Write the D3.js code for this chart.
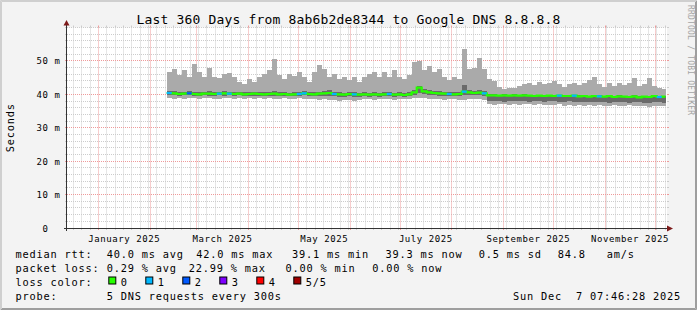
<!DOCTYPE html>
<html>
<head>
<meta charset="utf-8">
<script src="https://cdn.jsdelivr.net/npm/d3@7"></script>
<style>
  body { margin: 0; background: #f3f3f3; }
  svg text { font-family: "DejaVu Sans Mono", monospace; white-space: pre; }
</style>
</head>
<body>
<svg id="chart" width="697" height="310"></svg>
<script>
// one sample every 3 days, starting Feb 11 2025
const firstDay = new Date(2025, 1, 11);
const stepDays = 3;
const lastUpdate = new Date(2025, 11, 7, 7, 46, 28);

// smoke: 5 pings sorted, max / 2nd / median / 4th / min (ms)
const pingMax = [46.7,47.6,45.7,47.2,45.2,49.1,46.7,45.2,47.9,45.2,
  45.0,46.2,46.5,45.2,43.7,43.2,44.7,43.7,45.2,46.2,
  47.2,50.5,45.7,44.7,46.2,45.5,46.7,45.2,43.7,46.7,
  48.7,47.6,45.2,46.2,44.7,45.2,44.2,45.2,43.7,45.2,
  46.2,46.7,45.2,46.7,45.2,47.2,45.2,44.7,45.7,49.6,
  50.1,47.2,48.6,46.7,47.6,45.2,44.2,45.2,44.7,53.5,
  47.5,48.0,51.0,47.5,44.5,44.0,42.2,41.5,42.0,41.8,
  42.5,43.0,43.5,42.8,43.8,43.0,43.5,44.0,43.0,42.2,
  43.2,43.5,42.8,43.5,44.2,45.3,43.2,42.3,43.4,42.6,
  43.5,42.8,43.5,45.0,42.5,43.2,44.8,42.5,42.0,41.5];
const pingHigh = [41.0,41.1,40.7,40.8,40.9,40.7,40.6,40.8,40.9,40.7,
  40.8,40.9,40.8,40.6,40.7,40.6,40.7,40.8,40.6,40.6,
  40.7,40.9,40.6,40.7,40.5,40.6,40.8,41.0,40.7,40.6,
  40.8,40.9,41.2,40.7,40.6,40.5,40.7,40.6,40.5,40.6,
  40.5,40.6,40.5,40.6,40.7,40.5,40.6,40.4,40.7,41.4,
  42.6,41.6,41.3,41.0,40.9,40.8,40.7,40.6,40.8,42.8,
  41.3,41.0,41.2,40.9,40.0,40.0,39.9,40.0,39.9,40.0,
  39.9,40.0,39.9,39.8,39.9,39.8,39.9,39.8,39.9,39.8,
  39.8,39.9,39.7,39.8,39.6,39.8,39.7,39.6,39.8,39.5,
  39.7,39.6,39.5,39.7,39.4,39.6,39.5,39.8,39.5,39.6];
const pingMedian = [40.4,40.3,40.1,40.2,40.3,40.1,40.0,40.2,40.2,40.1,
  40.2,40.3,40.2,40.1,40.2,40.0,40.1,40.2,40.1,40.0,
  40.1,40.2,40.0,40.1,39.9,40.0,40.1,40.3,40.1,40.0,
  40.2,40.3,40.4,40.1,40.0,39.9,40.1,40.0,39.9,40.0,
  39.9,40.0,39.9,40.0,40.1,39.9,40.0,39.8,40.0,40.6,
  42.0,40.9,40.6,40.4,40.3,40.2,40.1,40.0,40.1,40.8,
  40.6,40.4,40.5,40.3,39.7,39.7,39.6,39.7,39.6,39.7,
  39.6,39.7,39.6,39.5,39.6,39.5,39.6,39.5,39.6,39.5,
  39.5,39.6,39.4,39.5,39.3,39.5,39.4,39.3,39.5,39.2,
  39.4,39.3,39.2,39.4,39.1,39.3,39.2,39.5,39.2,39.3];
const pingLow = [39.8,39.7,39.6,39.8,39.7,39.6,39.5,39.7,39.6,39.6,
  39.7,39.6,39.7,39.5,39.7,39.5,39.6,39.6,39.5,39.5,
  39.6,39.5,39.5,39.6,39.4,39.5,39.5,39.7,39.5,39.4,
  39.5,39.6,39.6,39.4,39.3,39.2,39.4,39.3,39.2,39.4,
  39.3,39.4,39.3,39.4,39.5,39.3,39.4,39.2,39.4,39.8,
  40.3,40.0,39.8,39.7,39.6,39.5,39.5,39.4,39.5,39.9,
  39.8,39.7,39.8,39.6,38.0,37.9,38.0,37.8,37.9,38.0,
  37.9,38.0,37.8,37.9,38.0,37.8,37.9,38.0,37.8,37.7,
  37.9,37.6,37.8,37.7,37.8,37.6,37.7,37.8,37.5,37.7,
  37.6,37.7,37.5,37.7,37.6,37.5,37.4,37.7,37.6,37.5];
const pingMin = [39.0,38.7,38.9,38.6,38.8,38.9,38.5,38.8,38.9,38.7,
  38.6,38.9,38.8,38.7,38.9,38.6,38.8,38.7,38.9,38.6,
  38.8,38.5,38.7,38.9,38.6,38.7,38.8,38.5,38.7,38.6,
  38.4,38.5,38.3,38.2,38.1,38.3,38.2,38.0,38.3,38.5,
  38.6,38.4,38.7,38.5,38.6,38.4,38.7,38.5,38.6,38.8,
  39.0,38.9,38.6,38.5,38.7,38.4,38.6,38.5,38.3,38.4,
  38.6,38.5,38.6,38.3,37.0,36.9,37.1,37.0,36.8,37.0,
  36.9,37.1,37.0,36.8,37.0,36.9,36.7,36.9,37.0,36.6,
  36.8,36.5,36.7,36.6,36.8,36.5,36.7,36.6,36.4,36.7,
  36.6,36.5,36.7,36.4,36.6,36.5,36.3,36.6,36.5,36.4];
// lost pings out of 5 in each sample
const lossCount = [1,0,0,0,2,0,0,0,0,0, 1,0,1,0,0,0,0,0,0,0,
  0,0,0,0,0,0,1,1,0,0, 0,0,0,1,0,0,0,1,0,0,
  0,0,0,0,1,0,0,0,0,0, 0,0,0,0,0,0,1,0,0,1,
  0,0,0,1,0,0,0,0,0,0, 0,0,0,0,0,0,0,0,1,0,
  0,1,0,0,0,0,1,0,0,0, 0,0,0,0,0,0,0,0,1,0];

const lossColors = ['#26ff00', '#00b8ff', '#0059ff', '#7e00ff', '#ff0000', '#a00000'];
const lossLabels = ['0', '1', '2', '3', '4', '5/5'];

const yTicks = [0, 10, 20, 30, 40, 50];
const yTickLabels = ['0  ', '10 m', '20 m', '30 m', '40 m', '50 m'];
const monthLabels = ['January 2025', 'March 2025', 'May 2025', 'July 2025', 'September 2025', 'November 2025'];

const titleText = 'Last 360 Days from 8ab6b2de8344 to Google DNS 8.8.8.8';
const rttStats = ['median rtt:', '40.0 ms avg', '42.0 ms max', '39.1 ms min', '39.3 ms now', '0.5 ms sd', '84.8', 'am/s'];
const lossStats = ['packet loss:', '0.29 % avg', '22.99 % max', '0.00 % min', '0.00 % now'];
const probeText = ['probe:', '5 DNS requests every 300s'];
const stampText = 'Sun Dec  7 07:46:28 2025';

const width = 697, height = 310;
const plot = {left: 67, right: 667, top: 27.5, bottom: 228};

const svg = d3.select('#chart');

// background + 3d frame
svg.append('rect').attr('width', width).attr('height', height).attr('fill', '#f3f3f3');
const frame = svg.append('g').attr('fill', 'none').attr('stroke-width', 1);
frame.append('path').attr('stroke', '#cfcfcf').attr('d', 'M0.5,310V0.5H697M1.5,309V1.5H696');
frame.append('path').attr('stroke', '#9e9e9e').attr('d', 'M1,309.5H696.5V1M2,308.5H695.5V2');

svg.append('rect')
  .attr('x', plot.left).attr('y', plot.top)
  .attr('width', plot.right - plot.left).attr('height', plot.bottom - plot.top)
  .attr('fill', '#ffffff');

// scales
const scaleX = d3.scaleTime()
  .domain([new Date(2024, 11, 13, 4), new Date(2025, 11, 8, 4)])
  .range([plot.left, plot.right]);
const scaleY = d3.scaleLinear()
  .domain([0, 60])
  .range([plot.bottom, plot.top]);

const px = v => Math.floor(v) + 0.5;

// grid
const grid = svg.append('g').attr('fill', 'none').attr('stroke-width', 1);
const minorY = d3.range(2, 61, 2).filter(v => v % 10 !== 0 || v === 60);
const majorY = d3.range(10, 51, 10);
function hLine(v, color) {
  const y = px(scaleY(v));
  grid.append('line').attr('x1', plot.left - 2).attr('x2', plot.left).attr('y1', y).attr('y2', y).attr('stroke', color);
  grid.append('line').attr('x1', plot.right).attr('x2', plot.right + 2).attr('y1', y).attr('y2', y).attr('stroke', color);
  grid.append('line').attr('x1', plot.left).attr('x2', plot.right).attr('y1', y).attr('y2', y)
    .attr('stroke', color).attr('stroke-dasharray', '1,1');
}
function vLine(t, color) {
  const x = px(scaleX(t));
  grid.append('line').attr('x1', x).attr('x2', x).attr('y1', plot.bottom).attr('y2', plot.bottom + 2).attr('stroke', color);
  grid.append('line').attr('x1', x).attr('x2', x).attr('y1', plot.top - 2).attr('y2', plot.top).attr('stroke', color);
  grid.append('line').attr('x1', x).attr('x2', x).attr('y1', plot.top).attr('y2', plot.bottom)
    .attr('stroke', color).attr('stroke-dasharray', '1,1');
}
const [t0, t1] = scaleX.domain();
const minorX = d3.timeDay.range(new Date(2024, 11, 12), t1, 5).filter(d => d > t0 && d.getDate() !== 1);
const majorX = d3.timeMonth.range(t0, t1);
minorY.forEach(v => hLine(v, '#cccccc'));
minorX.forEach(t => vLine(t, '#cccccc'));
majorY.forEach(v => hLine(v, '#ee9a9a'));
majorX.forEach(t => vLine(t, '#ee9a9a'));

// data points (step after)
const points = pingMedian.map((m, i) => ({
  t: d3.timeDay.offset(firstDay, i * stepDays),
  max: pingMax[i], high: pingHigh[i], med: m, low: pingLow[i], min: pingMin[i], loss: lossCount[i]
}));
const tail = Object.assign({}, points[points.length - 1], {t: lastUpdate});
const series = points.concat([tail]);

const smoke = (lo, hi) => d3.area()
  .x(d => scaleX(d.t)).y0(d => scaleY(d[lo])).y1(d => scaleY(d[hi]))
  .curve(d3.curveStepAfter);

const marks = svg.append('g');
marks.append('path').datum(series).attr('d', smoke('min', 'max'))
  .attr('fill', '#aaaaaa').attr('shape-rendering', 'crispEdges');
marks.append('path').datum(series).attr('d', smoke('low', 'high'))
  .attr('fill', '#6a6a6a').attr('shape-rendering', 'crispEdges');

const medLine = d3.line().x(d => scaleX(d.t)).y(d => scaleY(d.med)).curve(d3.curveStepAfter);
marks.append('path').datum(series).attr('d', medLine)
  .attr('fill', 'none').attr('stroke', lossColors[0]).attr('stroke-width', 2.2);

marks.append('g').selectAll('line')
  .data(points.filter(d => d.loss > 0))
  .join('line')
  .attr('x1', d => scaleX(d.t))
  .attr('x2', d => scaleX(d3.timeDay.offset(d.t, stepDays)))
  .attr('y1', d => scaleY(d.med)).attr('y2', d => scaleY(d.med))
  .attr('stroke', d => lossColors[d.loss]).attr('stroke-width', 2.2);

// axes
const axisCol = '#333333', arrowCol = '#7d1a1a';
svg.append('line').attr('x1', plot.left - 0.5).attr('x2', plot.left - 0.5)
  .attr('y1', plot.bottom + 3).attr('y2', 23).attr('stroke', axisCol);
svg.append('line').attr('x1', plot.left - 3).attr('x2', 668)
  .attr('y1', plot.bottom + 0.5).attr('y2', plot.bottom + 0.5).attr('stroke', axisCol);
svg.append('path').attr('d', 'M63.5,25.5L66.5,20L69.5,25.5Z').attr('fill', arrowCol);
svg.append('path').attr('d', 'M667,225.5L673,228.5L667,231.5Z').attr('fill', arrowCol);

// y tick labels
svg.append('g').selectAll('text')
  .data(yTicks)
  .join('text')
  .attr('x', 60.6)
  .attr('y', d => scaleY(d) + 3.5)
  .attr('text-anchor', 'end')
  .attr('font-size', 9).attr('letter-spacing', 0.58)
  .text((d, i) => yTickLabels[i]);

// x tick labels at mid month
const labelMonths = d3.timeMonth.range(new Date(2025, 0, 1), new Date(2025, 11, 1), 2);
svg.append('g').selectAll('text')
  .data(labelMonths)
  .join('text')
  .attr('x', d => (scaleX(d) + scaleX(d3.timeMonth.offset(d, 1))) / 2)
  .attr('y', 241.5)
  .attr('text-anchor', 'middle')
  .attr('font-size', 9).attr('letter-spacing', 0.58)
  .text((d, i) => monthLabels[i]);

// title, unit label, watermark
svg.append('text').attr('x', 348.5).attr('y', 23.5).attr('text-anchor', 'middle')
  .attr('font-size', 13).attr('letter-spacing', 0.17).text(titleText);
svg.append('text').attr('transform', 'translate(13.5,127.7) rotate(-90)').attr('text-anchor', 'middle')
  .attr('font-size', 10.3).attr('letter-spacing', 0.8).text('Seconds');
svg.append('text').attr('transform', 'translate(687.5,5) rotate(90)')
  .attr('font-size', 8).attr('letter-spacing', 0.2).attr('fill', '#a4a4a4')
  .text('RRDTOOL / TOBI OETIKER');

// legend
const legend = svg.append('g').attr('font-size', 10.3).attr('letter-spacing', 0.8);
const rowY = [257.7, 271.8, 285.9, 300];
const rttX = [15.5, 106.8, 196.2, 292, 385.5, 478.8, 557.8, 606.8];
const lossX = [15.5, 106.8, 188.8, 285.5, 372.2];
rttStats.forEach((s, i) => legend.append('text').attr('x', rttX[i]).attr('y', rowY[0]).text(s));
lossStats.forEach((s, i) => legend.append('text').attr('x', lossX[i]).attr('y', rowY[1]).text(s));
legend.append('text').attr('x', 15.5).attr('y', rowY[2]).text('loss color:');
lossLabels.forEach((s, i) => {
  const bx = 108.3 + i * 37;
  legend.append('rect').attr('x', bx + 0.5).attr('y', 277).attr('width', 7).attr('height', 7)
    .attr('fill', lossColors[i]).attr('stroke', '#000').attr('stroke-width', 1);
  legend.append('text').attr('x', bx + 12.5).attr('y', rowY[2]).text(s);
});
legend.append('text').attr('x', 15.5).attr('y', rowY[3]).text(probeText[0]);
legend.append('text').attr('x', 106.8).attr('y', rowY[3]).text(probeText[1]);
legend.append('text').attr('x', 681).attr('y', rowY[3]).attr('text-anchor', 'end').text(stampText);
</script>
</body>
</html>
